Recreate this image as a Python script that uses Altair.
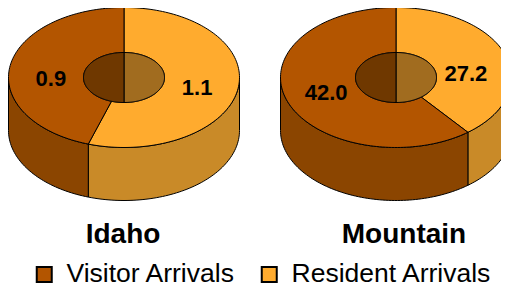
import altair as alt
import numpy as np
import pandas as pd

# ---- data ----
regions = ["Idaho", "Mountain"]
series = ["Visitor Arrivals", "Resident Arrivals"]
visitor = [0.9, 42.0]
resident = [1.1, 27.2]

# ---- style / layout ----
top_colors = ["#B35500", "#FFAB2E"]
side_colors = ["#8B4500", "#C98A28"]
hole_colors = ["#6F3800", "#A16C1F"]

W, H = 493, 282
CX = [116, 388]
TITLE_X = [115, 396]
CY = 69.5
A, B = 115.5, 70
AI, BI = 40.5, 25
DEPTH = 53
STEP = 1.5


def pt(cx, cy, a, b, deg):
    t = np.radians(deg)
    return cx + a * np.sin(t), cy - b * np.cos(t)


def arc(t1, t2):
    n = max(2, int(abs(t2 - t1) / STEP) + 1)
    return np.linspace(t1, t2, n)


def add_poly(rows, key, xs, ys, **extra):
    xs = list(xs) + [xs[0]]
    ys = list(ys) + [ys[0]]
    for k, (x, y) in enumerate(zip(xs, ys)):
        d = dict(g=key, k=k, x=float(x), y=float(y))
        d.update(extra)
        rows.append(d)


rows_top, rows_side, rows_hole, rows_lab = [], [], [], []
for i, reg in enumerate(regions):
    values = [visitor[i], resident[i]]
    total = sum(values)
    split = 360.0 * resident[i] / total
    segs = [(1, 0.0, split), (0, split, 360.0)]
    for s, t1, t2 in segs:
        key = f"{reg}-{s}"
        th = arc(t1, t2)
        ox, oy = pt(CX[i], CY, A, B, th)
        ix, iy = pt(CX[i], CY, AI, BI, th[::-1])
        add_poly(rows_top, key, np.concatenate([ox, ix]), np.concatenate([oy, iy]),
                 series=series[s])
        # outer side wall (front half)
        lo, hi = max(t1, 90.0), min(t2, 270.0)
        if hi > lo:
            th2 = arc(lo, hi)
            ux, uy = pt(CX[i], CY, A, B, th2)
            add_poly(rows_side, key, np.concatenate([ux, ux[::-1]]),
                     np.concatenate([uy, uy[::-1] + DEPTH]), clr=side_colors[s])
        # inner wall seen through the hole (far half)
        for f1, f2 in [(0.0, 90.0), (270.0, 360.0)]:
            lo, hi = max(t1, f1), min(t2, f2)
            if hi > lo:
                th3 = arc(lo, hi)
                tx, ty = pt(CX[i], CY, AI, BI, th3)
                add_poly(rows_hole, f"{key}-{f1}", np.concatenate([tx, tx[::-1]]),
                         np.concatenate([ty, 2 * CY - ty[::-1]]), clr=hole_colors[s])
        mid = (t1 + t2) / 2
        lx, ly = pt(CX[i], CY + 6, 74, 30, mid)
        rows_lab.append(dict(x=float(lx), y=float(ly), v=values[s]))

df_top = pd.DataFrame(rows_top)
df_side = pd.DataFrame(rows_side)
df_hole = pd.DataFrame(rows_hole)
df_lab = pd.DataFrame(rows_lab)
df_title = pd.DataFrame(dict(name=regions, x=TITLE_X, y=[235, 235]))

X = alt.X("x:Q", scale=alt.Scale(domain=[0, W], nice=False, zero=False), axis=None)
Y = alt.Y("y:Q", scale=alt.Scale(domain=[0, H], nice=False, zero=False, reverse=True), axis=None)

side = alt.Chart(df_side).mark_line(stroke="black", strokeWidth=1, interpolate="linear").encode(
    x=X, y=Y, detail="g:N", order="k:Q", fill=alt.Fill("clr:N", scale=None)
)
top = alt.Chart(df_top).mark_line(stroke="black", strokeWidth=1, interpolate="linear").encode(
    x=X, y=Y, detail="g:N", order="k:Q",
    fill=alt.Fill("series:N", scale=alt.Scale(domain=series, range=top_colors),
                  legend=alt.Legend(title=None, orient="none", legendX=23, legendY=253,
                                    direction="horizontal", symbolType="square",
                                    symbolSize=225, symbolStrokeColor="black",
                                    symbolStrokeWidth=2, labelFontSize=26.5,
                                    labelFont="Liberation Sans", labelColor="black",
                                    labelOffset=9, columnPadding=20, labelLimit=400)),
)
hole = alt.Chart(df_hole).mark_line(stroke="black", strokeWidth=1, interpolate="linear").encode(
    x=X, y=Y, detail="g:N", order="k:Q", fill=alt.Fill("clr:N", scale=None)
)
labels = alt.Chart(df_lab).mark_text(font="Liberation Sans", fontWeight="bold", fontSize=22,
                                     color="black", align="center", baseline="middle").encode(
    x=X, y=Y, text=alt.Text("v:Q", format=".1f")
)
titles = alt.Chart(df_title).mark_text(font="Liberation Sans", fontWeight="bold", fontSize=28,
                                       color="black", align="center", baseline="alphabetic").encode(
    x=X, y=Y, text="name:N"
)

chart = alt.layer(side, top, hole, labels, titles).properties(
    width=W, height=H, padding=0, autosize=alt.AutoSizeParams(type="none")
).configure_view(stroke=None)

chart.save("out.html", embed_options={"renderer": "svg", "actions": False})
